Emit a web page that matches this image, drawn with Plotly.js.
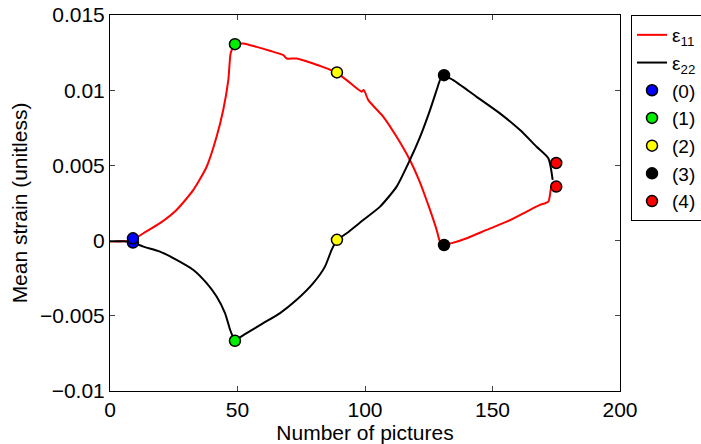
<!DOCTYPE html>
<html>
<head>
<meta charset="utf-8">
<script src="https://cdn.plot.ly/plotly-3.0.1.min.js"></script>
<style>html,body{margin:0;padding:0;background:#fff;}#chart{width:701px;height:444px;}</style>
</head>
<body>
<div id="chart"></div>
<script>
// ε11 curve (picture number, mean strain)
const e11X = [0, 5, 9, 13.1, 19.6, 26.1, 32.7, 37.9, 41.8, 44.4, 46.4, 47.3, 48.7,
  52.3, 57.5, 62.7, 68, 69.3, 73.2, 79.7, 85, 88.9,
  92.8, 98.7, 99.5, 101.3, 107.2, 112.4, 117.6, 120.9, 122.2, 125.5, 128.1, 129.4, 130.7,
  134, 139.9, 147.7, 155.6, 163.4, 168.6, 171.9, 172.8, 173.4];
const e11Y = [-0.00005, -0.00005, 0.00005, 0.00049, 0.00116, 0.00204, 0.00337, 0.00491, 0.0069, 0.00868, 0.01067, 0.01244, 0.01306,
  0.01311, 0.01288, 0.01262, 0.01233, 0.01211, 0.01211, 0.01178, 0.01145, 0.01118,
  0.01067, 0.0099, 0.01002, 0.00934, 0.00823, 0.0069, 0.00536, 0.00414, 0.00359, 0.00204, 0.00071, -0.00007, -0.00029,
  -0.00017, 0.00016, 0.00071, 0.00126, 0.00193, 0.00237, 0.00259, 0.00337, 0.00385];

// ε22 curve
const e22X = [0, 5, 9, 13.1, 19.6, 26.1, 32.7, 37.9, 41.8, 45.1, 47.1, 48.8,
  53.6, 60.1, 66.7, 73.2, 79.7, 84.3, 86.9, 88.9,
  92.8, 99.3, 105.9, 112.4, 117.6, 121.6, 125.5, 128.1, 129.4, 130.7,
  134.6, 143.8, 152.9, 160.8, 167.3, 171.9, 173.6];
const e22Y = [-0.00005, -0.00005, -0.00013, -0.0004, -0.00073, -0.00128, -0.00195, -0.00283, -0.00372, -0.00482, -0.00593, -0.00666,
  -0.00615, -0.00549, -0.00482, -0.00394, -0.00283, -0.00173, -0.00062, 0.00005,
  0.00049, 0.00137, 0.00226, 0.00359, 0.00536, 0.0069, 0.00868, 0.01001, 0.01067, 0.011,
  0.01067, 0.00956, 0.00846, 0.00735, 0.00624, 0.00547, 0.00403];

// marked states (0)..(4)
const stateNames = ['(0)', '(1)', '(2)', '(3)', '(4)'];
const stateColors = ['#0000ff', '#00ee00', '#ffff00', '#000000', '#ff0000'];
const stateX = [9, 49, 89, 131, 175];
const stateE11 = [0.00015, 0.01306, 0.01118, -0.00029, 0.00359];
const stateE22 = [-0.00013, -0.00666, 0.00005, 0.011, 0.00516];

const xTicks = [0, 50, 100, 150, 200];
const yTicks = [-0.01, -0.005, 0, 0.005, 0.01, 0.015];
const yTickText = ['\u22120.01', '\u22120.005', '0', '0.005', '0.01', '0.015'];

// split a curve at the marked states (1)-(3) so that its corners stay sharp
function segments(xs, ys) {
  const breaks = [];
  for (let s = 1; s <= 3; s++) {
    let best = 0;
    xs.forEach((v, i) => { if (Math.abs(v - stateX[s]) < Math.abs(xs[best] - stateX[s])) best = i; });
    breaks.push(best);
  }
  const out = [];
  let start = 0;
  breaks.concat([xs.length - 1]).forEach(b => {
    out.push([xs.slice(start, b + 1), ys.slice(start, b + 1)]);
    start = b;
  });
  return out;
}

const traces = [];
[[e11X, e11Y, '#ff0000', '\u03b5<sub>11</sub>', 'e11'], [e22X, e22Y, '#000000', '\u03b5<sub>22</sub>', 'e22']].forEach(c => {
  segments(c[0], c[1]).forEach((seg, k) => {
    traces.push({x: seg[0], y: seg[1], mode: 'lines', name: c[3], legendgroup: c[4], showlegend: k === 0,
      line: {color: c[2], width: 2, shape: 'spline', smoothing: 0.6}});
  });
});
stateNames.forEach((n, i) => {
  traces.push({
    x: [stateX[i], stateX[i]], y: [stateE22[i], stateE11[i]], mode: 'markers', name: n,
    marker: {color: stateColors[i], size: 11, line: {color: '#000', width: 1.5}}
  });
});

const font = {family: 'Liberation Sans, Arial, sans-serif', size: 21, color: '#000'};
const layout = {
  width: 701, height: 444,
  margin: {l: 110, r: 81, t: 15, b: 53, autoexpand: false},
  paper_bgcolor: '#fff', plot_bgcolor: '#fff',
  font: font,
  showlegend: true,
  legend: {x: 1.0216, xanchor: 'left', y: 1, yanchor: 'top', bordercolor: '#000', borderwidth: 1,
    bgcolor: '#fff', font: {family: font.family, size: 19, color: '#000'}, tracegroupgap: 0},
  xaxis: {range: [0, 200], tickvals: xTicks, ticks: 'inside', ticklen: 5, mirror: 'ticks',
    showline: true, linecolor: '#000', linewidth: 1, showgrid: false, zeroline: false,
    title: {text: 'Number of pictures', font: font, standoff: 0}, tickfont: font},
  yaxis: {range: [-0.01, 0.015], tickvals: yTicks, ticktext: yTickText, ticks: 'inside', ticklen: 5, mirror: 'ticks',
    showline: true, linecolor: '#000', linewidth: 1, showgrid: false, zeroline: false,
    title: {text: 'Mean strain (unitless)', font: font, standoff: 6}, tickfont: font}
};
Plotly.newPlot('chart', traces, layout, {displayModeBar: false, staticPlot: true});
</script>
</body>
</html>
